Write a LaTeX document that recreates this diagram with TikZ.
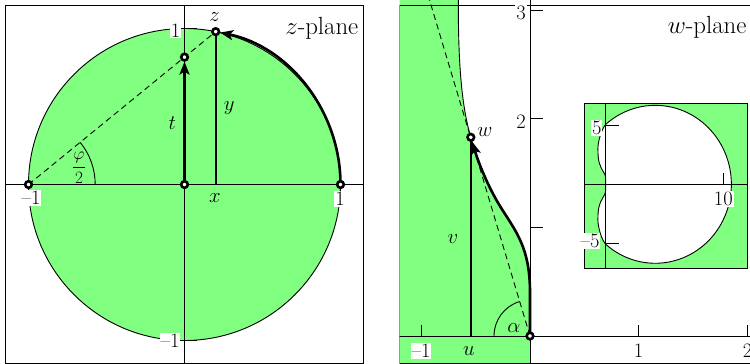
\documentclass[tikz,border=0pt]{standalone}
\usetikzlibrary{arrows.meta}
\definecolor{fillgreen}{RGB}{128,255,128}
\begin{document}
\begin{tikzpicture}[x=1pt,y=-1pt,
  font=\fontsize{20.5}{24}\selectfont,
  bigfont/.style={font=\fontsize{24.8}{28}\selectfont},
  thinline/.style={line width=0.9pt},
  medline/.style={line width=1.7pt},
  thickline/.style={line width=2.6pt},
  arr/.style={-{Stealth[length=13pt,width=10pt,inset=3pt]}},
  pt/.style={circle,draw=black,fill=white,line width=2.6pt,inner sep=0pt,minimum size=6.6pt},
  lab/.style={inner sep=1pt},
  wlab/.style={fill=white,inner sep=1pt},
  dsh/.style={line width=0.9pt,dash pattern=on 6pt off 4pt},
]
\useasboundingbox (0,0) rectangle (750,364);

% ================= z-plane =================
\begin{scope}[shift={(184.5,184.5)},x=156pt,y=156pt]
  \coordinate (zO) at (0,0);
  \coordinate (zM) at (-1,0);
  \coordinate (zP) at (1,0);
  \coordinate (zZ) at (0.2,0.9798);
  \coordinate (zT) at (0,0.8165);
  \coordinate (zX) at (0.2,0);
  \fill[fillgreen] (zO) circle[radius=1];
  \draw[thinline] (zO) circle[radius=1];
  \draw[thinline] (-1.146,0) -- (1.146,0);
  \draw[thinline] (0,-1.146) -- (0,1.146);
  \draw[thinline] (-1.146,-1.146) rectangle (1.146,1.146);
  \draw[thinline] (0,1) -- (0.08,1);
  \draw[thinline] (0,-1) -- (0.08,-1);
  \draw[dsh] (zM) -- (zZ);
  \draw[thinline] (zM) ++(0.4276,0) arc[start angle=0,end angle=39.23,radius=0.4276];
  \draw[medline] (zX) -- (zZ);
  \draw[thickline,arr,shorten >=4.5pt] (zO) -- (zT);
  \draw[thickline,arr,shorten >=4.5pt] (zP) arc[start angle=0,end angle=78.46,radius=1];
  \node[pt] (mM) at (zM) {};
  \node[pt] (mO) at (zO) {};
  \node[pt] (mP) at (zP) {};
  \node[pt] (mZ) at (zZ) {};
  \node[pt] (mT) at (zT) {};
\end{scope}
\node[wlab] (l1) at (175.5,30.5) {1};
\node[wlab] (lm1b) at (170,340.5) {\textendash1};
\node[wlab] (lm1l) at (31,198) {\textendash1};
\node[wlab] (l1r) at (340,199) {1};
\node[lab] (lt) at (172.3,123.3) {$t$};
\node[lab] (ly) at (229.3,108.3) {$y$};
\node[lab] (lx) at (215,198.3) {$x$};
\node[lab] (lz) at (214.5,17) {$z$};
\node[lab,font=\fontsize{18}{20}\selectfont] (lphi) at (79,168) {$\displaystyle\frac{\varphi}{2}$};
\node[lab,bigfont,anchor=base east] (lzp) at (359.5,34.3) {$z$-plane};

% ================= w-plane =================
\begin{scope}
\clip (399.5,0) rectangle (750,364);
\begin{scope}[shift={(530,336)},x=108.6pt,y=108.6pt,
  wA/.style={insert path={-- (0,0.4) .. controls (0,0.8) and (-0.12,0.95) .. (-0.26,1.17) .. controls (-0.388,1.37) and (-0.479,1.61) .. (-0.545,1.83)}},
  wB/.style={insert path={.. controls (-0.635,2.13) and (-0.66,2.55) .. (-0.66,3.05)}}]
  \coordinate (wO) at (0,0);
  \coordinate (wW) at (-0.545,1.83);
  \coordinate (wU) at (-0.545,0);
  \coordinate (wD) at (-0.927,3.1);
  \fill[fillgreen] (0,-0.3) -- (wO) [wA] [wB] -- (-0.66,3.3) -- (-1.3,3.3) -- (-1.3,-0.3) -- cycle;
  \draw[thinline] (wO) [wA] [wB] -- (-0.66,3.3);
  \draw[dsh] (wO) -- (wD);
  \draw[thinline] (wO) ++(-0.3315,0) arc[start angle=180,end angle=106.65,radius=0.3315];
  \draw[medline] (wU) -- (wW);
  \draw[thinline] (-1.3,0) -- (2.3,0);
  \draw[thinline] (0,-0.3) -- (0,3.3);
  \foreach \v in {1,2,3} \draw[thinline] (0,\v) -- (0.12,\v);
  \foreach \u in {-1,1,2} \draw[thinline] (\u,0) -- (\u,0.105);
  \draw[thickline,arr,shorten >=4.5pt] (wO) [wA];
  \node[pt] (nO) at (wO) {};
  \node[pt] (nW) at (wW) {};
\end{scope}
\draw[thinline] (760,5.5) -- (399.5,5.5) -- (399.5,363.3) -- (760,363.3);
\node[lab,bigfont,anchor=base west] (lwp) at (666.7,33) {$w$-plane};

% inset
\begin{scope}[shift={(605.7,184.3)},x=11.8pt,y=11.75pt,
  wA/.style={insert path={-- (0,0.4) .. controls (0,0.8) and (-0.12,0.95) .. (-0.26,1.17) .. controls (-0.388,1.37) and (-0.479,1.61) .. (-0.545,1.83)}},
  wB/.style={insert path={.. controls (-0.635,2.13) and (-0.66,2.55) .. (-0.66,3.05)}},
  wC/.style={insert path={.. controls (-0.66,3.65) and (-0.33,4.82) .. (0.054,5.148) arc[start angle=130,end angle=0,x radius=6.45,y radius=6.72]}}]
  \fill[fillgreen] (-1.78,-7.15) rectangle (12.03,6.89);
  \fill[white] (0,0) [wA] [wB] [wC] -- cycle;
  \begin{scope}[yscale=-1]
    \fill[white] (0,0) [wA] [wB] [wC] -- cycle;
    \draw[thinline] (0,0) [wA] [wB] [wC];
  \end{scope}
  \draw[thinline] (0,0) [wA] [wB] [wC];
  \draw[thinline] (-1.78,0) -- (12.03,0);
  \draw[thinline] (0,-7.15) -- (0,6.89);
  \draw[thinline] (0,5) -- (1.1,5);
  \draw[thinline] (0,-5) -- (1.1,-5);
  \draw[thinline] (10,0) -- (10,1);
  \draw[thinline] (-1.78,-7.15) rectangle (12.03,6.89);
\end{scope}
\end{scope}
\node[wlab] (l3) at (521,13) {3};
\node[lab] (l2) at (521,121.7) {2};
\node[wlab] (lum1) at (421,351) {\textendash1};
\node[lab] (lu1) at (638.5,351) {1};
\node[lab] (lu2) at (747.5,351) {2};
\node[lab] (lu) at (469,351) {$u$};
\node[lab] (lv) at (453,239) {$v$};
\node[lab] (lw) at (485,132) {$w$};
\node[lab] (lal) at (514,328) {$\alpha$};
\node[wlab] (i5) at (596.7,128.3) {5};
\node[wlab] (im5) at (590,240.7) {\textendash5};
\node[wlab] (i10) at (723.3,199.3) {10};
\end{tikzpicture}
\end{document}
